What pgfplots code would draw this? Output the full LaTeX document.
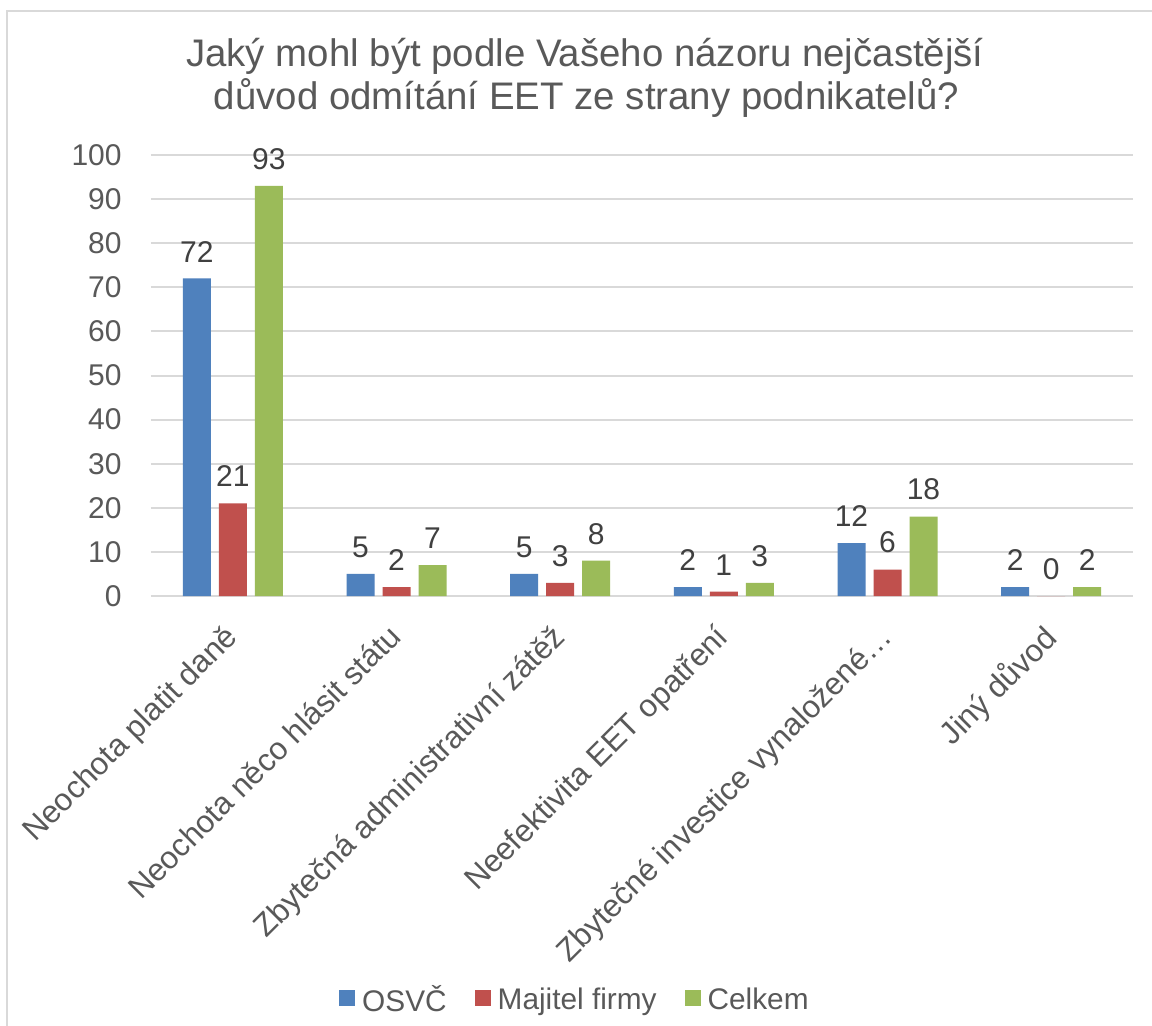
\documentclass[border=0pt]{standalone}
\usepackage{pgfplots}
\pgfplotsset{compat=1.18}
\usepackage{fontspec}
\setmainfont{Liberation Sans}
\definecolor{cblue}{HTML}{4F81BD}
\definecolor{cred}{HTML}{C0504D}
\definecolor{cgreen}{HTML}{9BBB59}
\definecolor{tgray}{HTML}{595959}
\definecolor{dgray}{HTML}{404040}
\definecolor{ggray}{HTML}{D9D9D9}
\newcommand{\lf}{\fontsize{15}{18}\selectfont}
\newcommand{\xf}{\fontsize{15.7}{18}\selectfont}
\newcommand{\lgf}{\fontsize{14.9}{18}\selectfont}
\begin{document}
\begin{tikzpicture}[x=1pt,y=1pt]
\useasboundingbox (0,0) rectangle (576,512.5);
\fill[white] (0,0) rectangle (576,512.5);
\draw[ggray, line width=1pt] (3.5,-2) -- (3.5,507) -- (580,507);
\node[anchor=base, text=tgray, font=\fontsize{19.2}{22}\selectfont] at (292.5,479) {Jaký mohl být podle Vašeho názoru nejčastější};
\node[anchor=base, text=tgray, font=\fontsize{19.2}{22}\selectfont] at (293.2,457.5) {důvod odmítání EET ze strany podnikatelů?};
\begin{axis}[
  at={(75.5pt,214.5pt)}, anchor=south west,
  scale only axis, width=491pt, height=220.5pt,
  ybar=4pt, bar width=14pt,
  xmin=-0.5, xmax=5.5, ymin=0, ymax=100,
  ytick={0,10,...,100},
  xtick={0,1,2,3,4,5},
  xticklabels={Neochota platit daně, Neochota něco hlásit státu, Zbytečná administrativní zátěž, Neefektivita EET opatření, Zbytečné investice vynaložené…, Jiný důvod},
  axis line style={draw=none},
  major tick length=0pt,
  ymajorgrids, grid style={ggray, line width=1pt},
  /pgf/number format/assume math mode=true,
  yticklabel style={font=\lf, text=tgray, anchor=east, inner sep=0pt, xshift=-14.5pt},
  xticklabel style={font=\xf, text=tgray, xshift=-5pt, yshift=-13pt, rotate=45, anchor=north east, inner sep=0pt},
  nodes near coords,
  every node near coord/.append style={font=\lf, text=dgray, anchor=south, inner sep=0pt, yshift=8pt},
  legend style={at={(0.4307,-0.916)}, anchor=center, legend columns=-1, draw=none, fill=none, font=\lgf, text=tgray,
     nodes={inner sep=0pt},
     /tikz/every odd column/.append style={column sep=3.5pt},
     /tikz/every even column/.append style={column sep=14pt}},
  legend image code/.code={\fill[#1] (0pt,-3pt) rectangle (8pt,5pt);},
]
\addplot[fill=cblue, draw=none] coordinates {(0,72) (1,5) (2,5) (3,2) (4,12) (5,2)};
\addplot[fill=cred, draw=none] coordinates {(0,21) (1,2) (2,3) (3,1) (4,6) (5,0)};
\addplot[fill=cgreen, draw=none] coordinates {(0,93) (1,7) (2,8) (3,3) (4,18) (5,2)};
\legend{OSVČ, Majitel firmy, Celkem}
\end{axis}
\end{tikzpicture}
\end{document}
